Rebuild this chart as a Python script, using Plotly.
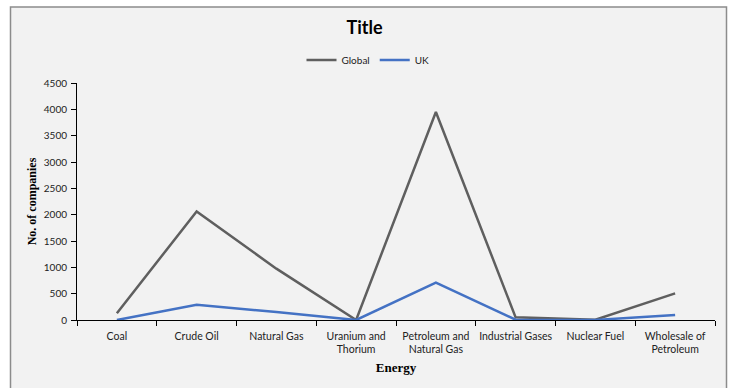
import plotly.graph_objects as go

categories = ["Coal", "Crude Oil", "Natural Gas", "Uranium and<br>Thorium",
              "Petroleum and<br>Natural Gas", "Industrial Gases", "Nuclear Fuel",
              "Wholesale of<br>Petroleum"]
global_vals = [130, 2060, 975, 0, 3950, 50, 5, 505]
uk_vals = [0, 287, 150, 0, 710, 5, 0, 97]
y_ticks = [0, 500, 1000, 1500, 2000, 2500, 3000, 3500, 4000, 4500]

W, H = 729, 388
L, R, T, B = 77, 14, 83, 68
pw, ph = W - L - R, H - T - B

def px_x(p):
    return (p - L) / pw

def px_y(p):
    return (H - B - p) / ph

fig = go.Figure()
fig.add_trace(go.Scatter(x=categories, y=global_vals, mode="lines", name="Global",
                         line=dict(color="#5f5f5f", width=2.5)))
fig.add_trace(go.Scatter(x=categories, y=uk_vals, mode="lines", name="UK",
                         line=dict(color="#4472c4", width=2.5)))

font_sans = "Lato, 'Open Sans', sans-serif"
font_serif = "'Liberation Serif', 'Times New Roman', serif"

fig.update_layout(
    width=W, height=H,
    margin=dict(l=L, r=R, t=T, b=B, pad=0, autoexpand=False),
    paper_bgcolor="white",
    plot_bgcolor="#f2f2f2",
    title=dict(text="<b>Title</b>", x=0.5, xanchor="center", y=1 - 28 / H, yanchor="middle",
               font=dict(family=font_sans, size=18, color="black")),
    showlegend=True,
    legend=dict(orientation="h", x=0.5 + (368 - (L + pw / 2)) / pw, xanchor="center",
                y=px_y(60), yanchor="middle", bgcolor="rgba(0,0,0,0)",
                font=dict(family=font_sans, size=10, color="#222"),
                itemwidth=30, tracegroupgap=0),
    xaxis=dict(type="category", showline=True, linecolor="black", linewidth=1,
               ticks="outside", tickson="boundaries", ticklen=5, tickcolor="black",
               showgrid=False, zeroline=False, ticklabelstandoff=6, tickangle=0,
               automargin=False,
               tickfont=dict(family=font_sans, size=10.5, color="#222"),
               title=dict(text="<b>Energy</b>", standoff=8,
                          font=dict(family=font_serif, size=13, color="black")),
               range=[-0.5, 7.5]),
    yaxis=dict(range=[0, 4500], tickvals=y_ticks, showline=True, linecolor="black", linewidth=1,
               ticks="outside", ticklen=5, tickcolor="black", showgrid=False, zeroline=False,
               ticklabelstandoff=2, automargin=False,
               tickfont=dict(family=font_sans, size=10, color="#222"),
               title=dict(text="<b>No. of companies</b>", standoff=4,
                          font=dict(family=font_serif, size=12, color="black"))),
)

fig.add_shape(type="rect", xref="paper", yref="paper", layer="below",
              x0=px_x(10.5), x1=px_x(726.5), y0=px_y(395), y1=px_y(7),
              fillcolor="#f2f2f2", line=dict(color="#8c8c8c", width=1.5))

fig.write_html("out.html")
